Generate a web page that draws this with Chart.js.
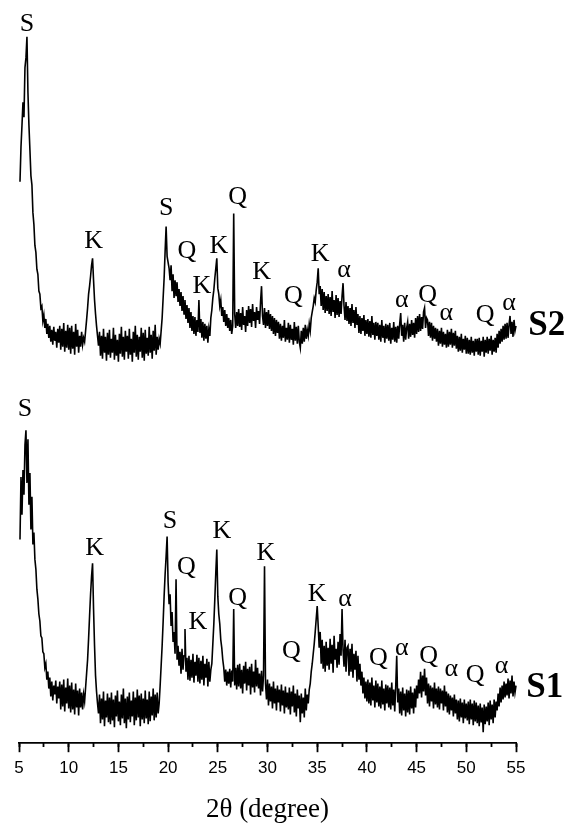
<!DOCTYPE html>
<html>
<head>
<meta charset="utf-8">
<script src="https://cdn.jsdelivr.net/npm/chart.js@4/dist/chart.umd.min.js"></script>
<style>
  html, body { margin: 0; padding: 0; background: #fff; }
  canvas { display: block; }
</style>
</head>
<body>
<canvas id="xrd" width="574" height="829"></canvas>
<script>
// scan: 2theta start and instrument step
const twoThetaStart = 5.1;
const twoThetaStep = 0.1;
const tickStep = 5;

// intensities (a.u.), one line per degree
const s1Intensity = [
  205, 268, 230, 275, 250, 300, 315, 262, 306, 240,
  272, 215, 248, 200, 212, 185, 175, 155, 145, 130,
  123, 108, 106, 92, 90, 76, 80, 64, 72, 55,
  66, 47, 62, 43, 58, 49, 63, 40, 57, 45,
  62, 34, 59, 37, 64, 32, 56, 40, 65, 35,
  58, 31, 61, 34, 54, 29, 60, 36, 53, 28,
  55, 36, 51, 34, 49, 42, 56, 70, 84, 105,
  128, 150, 168, 181, 135, 98, 68, 52, 40, 30,
  49, 20, 45, 24, 52, 17, 43, 26, 50, 21,
  46, 19, 51, 23, 44, 16, 48, 27, 53, 22,
  42, 18, 49, 25, 55, 20, 45, 15, 47, 24,
  51, 21, 43, 27, 52, 18, 46, 23, 54, 26,
  48, 17, 50, 24, 45, 20, 53, 25, 44, 19,
  52, 22, 47, 28, 55, 23, 49, 26, 51, 30,
  40, 58, 78, 98, 122, 148, 170, 188, 208, 162,
  140, 150, 118, 132, 102, 112, 90, 165, 84, 98,
  78, 92, 70, 95, 74, 88, 115, 72, 86, 64,
  88, 63, 84, 66, 90, 61, 82, 68, 89, 62,
  86, 60, 83, 64, 88, 58, 80, 66, 85, 57,
  82, 62, 74, 80, 100, 120, 145, 172, 195, 148,
  130, 120, 104, 96, 84, 76, 62, 74, 58, 72,
  60, 75, 56, 73, 62, 135, 58, 76, 54, 79,
  57, 80, 55, 74, 50, 78, 60, 82, 53, 75,
  58, 77, 49, 80, 56, 72, 51, 84, 57, 76,
  55, 70, 48, 73, 52, 68, 178, 60, 44, 64,
  38, 60, 42, 57, 35, 62, 40, 55, 33, 58,
  41, 54, 32, 59, 38, 53, 30, 57, 36, 51,
  34, 56, 29, 52, 37, 58, 31, 50, 27, 54,
  35, 48, 21, 50, 30, 46, 26, 55, 33, 49,
  40, 54, 60, 72, 80, 90, 100, 112, 125, 138,
  118, 96, 112, 80, 104, 75, 98, 72, 102, 78,
  96, 74, 105, 80, 99, 71, 108, 84, 95, 76,
  102, 79, 110, 88, 135, 94, 77, 104, 72, 96,
  98, 68, 95, 72, 100, 66, 90, 74, 93, 62,
  88, 64, 80, 58, 72, 50, 66, 45, 62, 42,
  64, 40, 61, 38, 66, 43, 58, 36, 63, 41,
  60, 37, 57, 35, 63, 39, 55, 33, 59, 40,
  58, 36, 56, 34, 61, 38, 54, 32, 57, 88,
  41, 55, 30, 52, 28, 56, 33, 50, 27, 54,
  31, 53, 29, 57, 35, 51, 30, 55, 36, 58,
  45, 64, 50, 72, 46, 68, 52, 75, 48, 66,
  40, 60, 37, 58, 42, 56, 35, 61, 39, 55,
  36, 57, 34, 55, 40, 53, 33, 58, 37, 52,
  31, 50, 29, 48, 33, 46, 27, 49, 30, 44,
  24, 43, 22, 45, 26, 41, 20, 44, 25, 40,
  23, 42, 19, 44, 24, 40, 18, 43, 22, 41,
  20, 38, 17, 40, 21, 36, 11, 39, 19, 37,
  22, 41, 18, 43, 24, 39, 20, 44, 26, 42,
  33, 50, 37, 56, 41, 58, 44, 62, 46, 60,
  48, 65, 45, 63, 50, 68, 47, 62, 51, 58
];

const s2Intensity = [
  205, 240, 262, 285, 270, 320, 330, 351, 295, 262,
  237, 211, 202, 174, 162, 141, 134, 117, 112, 95,
  92, 78, 80, 65, 71, 58, 67, 52, 62, 48,
  60, 44, 56, 41, 59, 45, 54, 38, 57, 43,
  60, 36, 57, 39, 63, 34, 55, 38, 61, 36,
  58, 32, 60, 37, 54, 31, 62, 39, 56, 33,
  50, 39, 54, 41, 48, 44, 55, 66, 78, 92,
  100, 110, 121, 128, 106, 86, 72, 60, 50, 40,
  54, 30, 50, 27, 57, 33, 49, 25, 53, 31,
  56, 28, 47, 33, 58, 26, 51, 30, 46, 24,
  52, 32, 59, 29, 49, 26, 55, 34, 50, 27,
  57, 31, 47, 24, 54, 33, 60, 29, 51, 26,
  49, 34, 58, 28, 53, 25, 56, 32, 48, 30,
  59, 33, 51, 27, 55, 35, 61, 31, 49, 36,
  47, 42, 55, 68, 88, 108, 135, 160, 130, 124,
  118, 106, 121, 95, 112, 88, 106, 90, 104, 84,
  97, 80, 94, 75, 90, 72, 86, 67, 81, 63,
  78, 58, 74, 55, 70, 52, 69, 50, 66, 54,
  86, 53, 67, 48, 64, 45, 62, 47, 60, 43,
  57, 50, 68, 76, 88, 96, 108, 118, 128, 98,
  92, 80, 86, 70, 79, 64, 76, 60, 72, 58,
  68, 55, 66, 52, 60, 173, 72, 58, 74, 60,
  77, 59, 73, 56, 79, 61, 70, 54, 76, 60,
  80, 63, 77, 59, 82, 65, 74, 58, 79, 66,
  75, 62, 84, 100, 70, 61, 78, 58, 74, 60,
  76, 57, 72, 55, 70, 52, 68, 50, 66, 53,
  64, 47, 62, 45, 60, 48, 66, 44, 58, 46,
  63, 43, 61, 46, 57, 41, 64, 45, 59, 42,
  60, 44, 38, 55, 42, 58, 44, 61, 47, 56,
  50, 62, 55, 68, 74, 80, 88, 84, 96, 104,
  118, 92, 100, 80, 97, 76, 94, 73, 90, 75,
  92, 72, 89, 70, 95, 74, 86, 68, 91, 71,
  88, 69, 85, 72, 90, 103, 80, 66, 84, 65,
  80, 62, 78, 60, 82, 63, 76, 58, 79, 61,
  72, 53, 70, 52, 68, 55, 71, 50, 66, 52,
  67, 49, 65, 48, 70, 51, 63, 46, 64, 50,
  63, 46, 61, 44, 66, 48, 60, 43, 62, 47,
  61, 45, 63, 42, 58, 46, 64, 44, 59, 43,
  60, 47, 62, 73, 50, 61, 44, 63, 46, 58,
  64, 47, 62, 49, 66, 51, 63, 48, 68, 52,
  70, 54, 72, 55, 69, 57, 74, 78, 58, 68,
  66, 50, 64, 48, 63, 45, 60, 47, 58, 44,
  57, 40, 55, 42, 58, 39, 54, 41, 52, 38,
  56, 39, 54, 41, 57, 38, 53, 40, 55, 37,
  50, 34, 49, 35, 52, 33, 47, 36, 50, 32,
  48, 32, 46, 31, 49, 33, 45, 30, 47, 34,
  47, 31, 48, 30, 45, 34, 49, 29, 46, 33,
  49, 32, 47, 35, 50, 31, 46, 34, 48, 33,
  52, 38, 55, 42, 57, 44, 60, 46, 62, 47,
  63, 48, 61, 70, 52, 64, 49, 66, 55, 60
];

// vertical shift of the upper pattern
const s2Offset = 360;

// phase labels: S smectite, K kaolinite, Q quartz, α
const s1PeakText = ["S", "K", "S", "Q", "K", "K", "Q", "K", "Q", "K", "α", "Q", "α", "Q", "α", "Q", "α"];
const s1PeakX = [5.6, 12.6, 20.2, 21.85, 23.0, 25.4, 27.0, 29.85, 32.4, 35.0, 37.8, 41.15, 43.5, 46.2, 48.5, 50.9, 53.55];
const s1PeakY = [336, 196, 223, 177, 122, 213, 146, 191, 93, 150, 145, 86, 96, 88, 75, 68, 78];

const s2PeakText = ["S", "K", "S", "Q", "K", "K", "Q", "K", "Q", "K", "α", "α", "Q", "α", "Q", "α"];
const s2PeakX = [5.8, 12.5, 19.8, 21.9, 23.4, 25.1, 27.0, 29.4, 32.6, 35.3, 37.7, 43.5, 46.1, 48.0, 51.9, 54.3];
const s2PeakY = [364, 145, 178, 135, 100, 140, 190, 114, 90, 132, 116, 86, 91, 73, 71, 83];

const seriesNames = ["S1", "S2"];
const seriesNameX = [57.9, 58.1];
const seriesNameY = [56, 60];

function toPoints(values, offset) {
  return values.map((v, i) => ({ x: twoThetaStart + i * twoThetaStep, y: v + offset }));
}

function fixRange(scale) {
  scale.min = 5;
  scale.max = 55;
}

const peakLabels = {
  id: "peakLabels",
  afterDatasetsDraw(chart) {
    const { ctx, scales } = chart;
    const px = (v) => scales.x.getPixelForValue(v);
    const py = (v) => scales.y.getPixelForValue(v);
    ctx.save();
    ctx.fillStyle = "#000";
    ctx.textAlign = "center";
    ctx.textBaseline = "middle";
    ctx.font = '26px "Liberation Serif", "Times New Roman", serif';
    s1PeakText.forEach((t, i) => ctx.fillText(t, px(s1PeakX[i]), py(s1PeakY[i])));
    s2PeakText.forEach((t, i) => ctx.fillText(t, px(s2PeakX[i]), py(s2PeakY[i] + s2Offset)));
    ctx.font = 'bold 35px "Liberation Serif", "Times New Roman", serif';
    ctx.fillText(seriesNames[0], px(seriesNameX[0]), py(seriesNameY[0]));
    ctx.fillText(seriesNames[1], px(seriesNameX[1]), py(seriesNameY[1] + s2Offset));
    ctx.restore();
  },
};

new Chart(document.getElementById("xrd"), {
  type: "line",
  data: {
    datasets: [
      { label: "S1", data: toPoints(s1Intensity, 0) },
      { label: "S2", data: toPoints(s2Intensity, s2Offset) },
    ],
  },
  options: {
    responsive: false,
    animation: false,
    devicePixelRatio: 1,
    layout: { padding: { left: 19, right: 58, top: 0, bottom: 0 } },
    elements: {
      point: { radius: 0 },
      line: { borderColor: "#000", borderWidth: 1.6, tension: 0 },
    },
    datasets: { line: { clip: false } },
    plugins: { legend: { display: false }, tooltip: { enabled: false } },
    scales: {
      x: {
        type: "linear",
        position: "bottom",
        afterDataLimits: fixRange,
        border: { color: "#000", width: 1.8 },
        grid: { drawOnChartArea: false, tickLength: 9, tickWidth: 1.8, tickColor: "#000" },
        ticks: {
          stepSize: tickStep,
          maxRotation: 0,
          autoSkip: false,
          padding: 6,
          color: "#000",
          font: { family: '"Liberation Sans", Arial, sans-serif', size: 17 },
        },
        title: {
          display: true,
          text: "2θ (degree)",
          color: "#000",
          font: { family: '"Liberation Serif", "Times New Roman", serif', size: 27 },
          padding: { top: 9, bottom: 3 },
        },
      },
      xMinor: {
        type: "linear",
        axis: "x",
        position: { y: 0 },
        afterDataLimits: fixRange,
        border: { display: false },
        grid: { drawOnChartArea: false, tickLength: 4, tickWidth: 1.8, tickColor: "#000" },
        ticks: { stepSize: tickStep / 2, display: false },
      },
      y: { display: false, min: 0, max: 748 },
    },
  },
  plugins: [peakLabels],
});
</script>
</body>
</html>
